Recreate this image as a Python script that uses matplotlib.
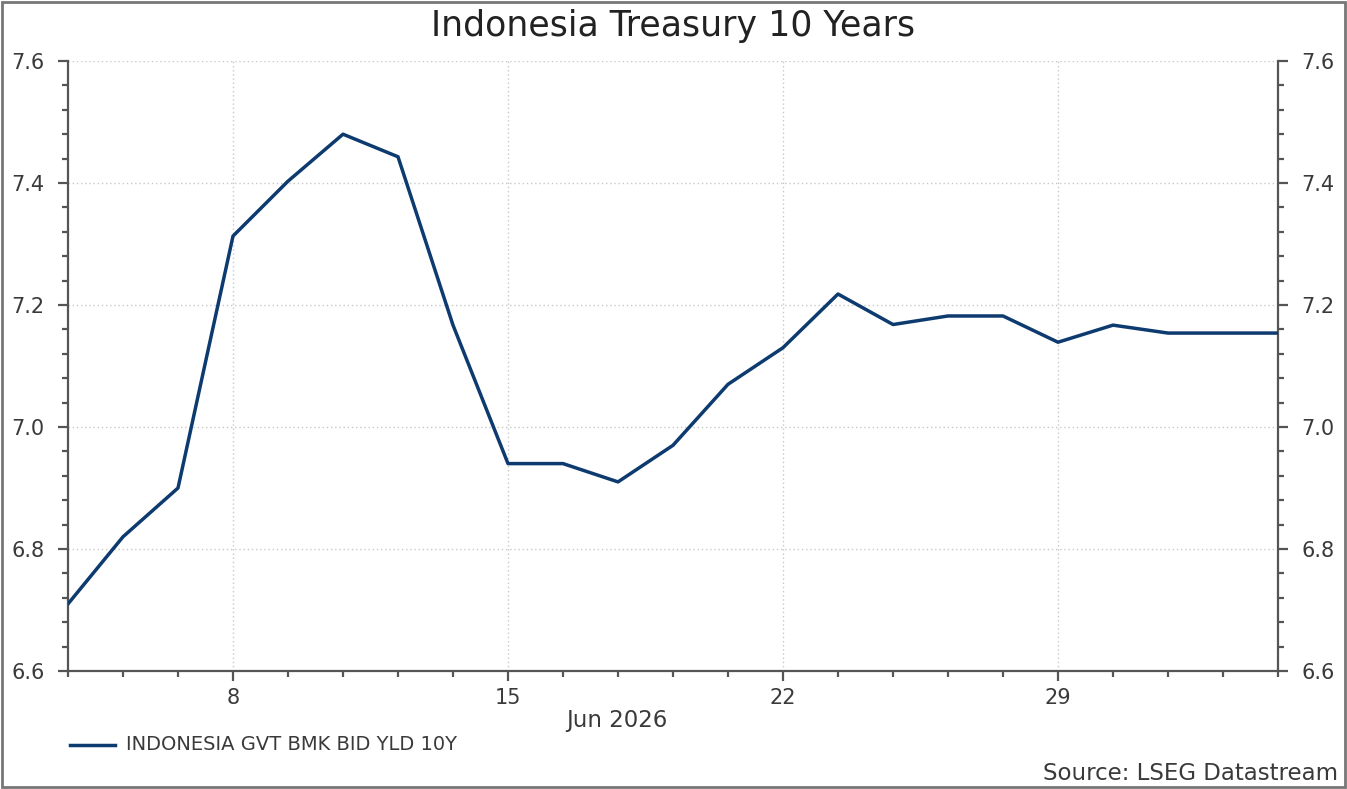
import matplotlib
matplotlib.use("Agg")
import matplotlib.pyplot as plt
import numpy as np
from matplotlib.patches import Rectangle
from matplotlib.ticker import MultipleLocator, FixedLocator

plt.rcParams["font.family"] = ["DejaVu Sans"]

dates = ["2026-06-03", "2026-06-04", "2026-06-05",
         "2026-06-08", "2026-06-09", "2026-06-10", "2026-06-11", "2026-06-12",
         "2026-06-15", "2026-06-16", "2026-06-17", "2026-06-18", "2026-06-19",
         "2026-06-22", "2026-06-23", "2026-06-24", "2026-06-25", "2026-06-26",
         "2026-06-29", "2026-06-30", "2026-07-01", "2026-07-02", "2026-07-03"]
yields = [6.71, 6.82, 6.90,
          7.313, 7.403, 7.48, 7.443, 7.167,
          6.94, 6.94, 6.91, 6.97, 7.07,
          7.13, 7.218, 7.168, 7.182, 7.182,
          7.139, 7.167, 7.154, 7.154, 7.154]
x_tick_labels = ["8", "15", "22", "29"]
series_name = "INDONESIA GVT BMK BID YLD 10Y"

color = "#0E3B6F"
text_color = "#3a3a3a"

fig = plt.figure(figsize=(13.47, 7.89), dpi=100)
W, H = 1347, 789
ax = fig.add_axes([68 / W, 1 - 671 / H, (1278 - 68) / W, (671 - 61) / H])

d = np.array(dates, dtype="datetime64[D]")
x = np.arange(len(d))
ax.plot(x, yields, color=color, lw=2.5, zorder=3)

ax.set_xlim(0, len(d) - 1)
ax.set_ylim(6.6, 7.6)

# major ticks on Mondays
dow = (d.view("int64") - 4) % 7  # 0 = Monday
mondays = x[dow == 0]
ax.xaxis.set_major_locator(FixedLocator(mondays))
ax.set_xticklabels(x_tick_labels)
ax.xaxis.set_minor_locator(FixedLocator(x))
ax.yaxis.set_major_locator(MultipleLocator(0.2))
ax.yaxis.set_minor_locator(MultipleLocator(0.04))
ax.yaxis.set_major_formatter(matplotlib.ticker.FormatStrFormatter("%.1f"))

ax.grid(True, which="major", color="#C8C8C8", linestyle=(0, (1, 2)), lw=1.0)

ax.spines["top"].set_visible(False)
for s in ["left", "right", "bottom"]:
    ax.spines[s].set_color("#555555")
    ax.spines[s].set_linewidth(1.6)

ax.tick_params(axis="both", which="major", length=7, width=1.6, color="#555555",
               labelsize=15, labelcolor=text_color)
ax.tick_params(axis="both", which="minor", length=4, width=1.6, color="#555555")
ax.tick_params(axis="y", which="both", left=True, right=True, labelleft=True, labelright=True)
ax.tick_params(axis="y", which="major", pad=10)
ax.tick_params(axis="x", which="major", pad=5)

fig.text(673 / W, 1 - 26 / H, "Indonesia Treasury 10 Years", ha="center", va="center",
         fontsize=25, color="#222222")

fig.text(617 / W, 1 - 720 / H, "Jun 2026", ha="center", va="center", fontsize=16.5, color=text_color)

# legend
fig.add_artist(plt.Line2D([70 / W, 115 / W], [1 - 745 / H, 1 - 745 / H], color=color, lw=2.5))
fig.text(126 / W, 1 - 745 / H, series_name, ha="left", va="center", fontsize=14, color=text_color)

fig.text(1338 / W, 1 - 774 / H, "Source: LSEG Datastream", ha="right", va="center",
         fontsize=16.5, color=text_color)

fig.add_artist(Rectangle((2 / W, 2 / H), 1 - 4 / W, 1 - 4 / H, transform=fig.transFigure,
                         fill=False, edgecolor="#777777", lw=2))

fig.savefig("out.png", dpi=100)
